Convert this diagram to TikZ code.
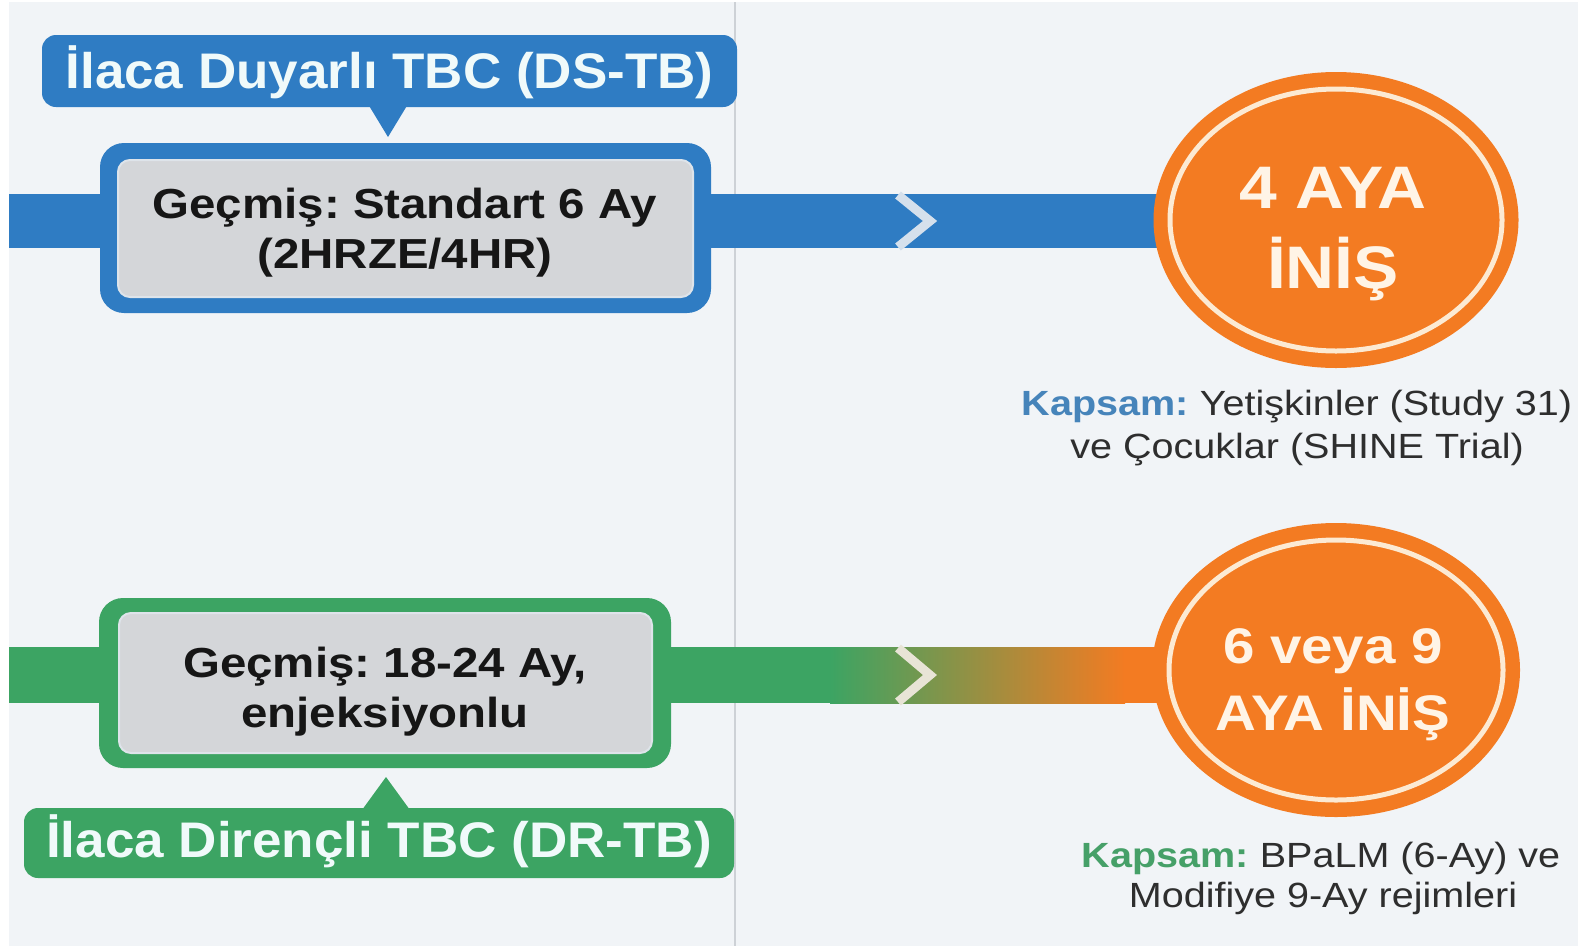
\documentclass[tikz,border=0pt]{standalone}
\usepackage{fontspec}
\setmainfont{Liberation Sans}[FakeStretch=1.13]
\newfontfamily\tagfont{Liberation Sans}[FakeStretch=1.06]
\usetikzlibrary{shapes.geometric}
\definecolor{bg}{HTML}{F1F4F7}
\definecolor{tblue}{HTML}{2F7CC3}
\definecolor{tgreen}{HTML}{3CA463}
\definecolor{torange}{HTML}{F37B22}
\definecolor{boxgrey}{HTML}{D4D6D9}
\definecolor{boxedge}{HTML}{DEE4EA}
\definecolor{ringc}{HTML}{FCEAD3}
\definecolor{divc}{HTML}{CDD1D6}
\definecolor{chevb}{HTML}{D5E0EC}
\definecolor{chevg}{HTML}{E8E4D6}
\definecolor{tagtxt}{HTML}{F0FAFA}
\definecolor{circtxt}{HTML}{FFF4E6}
\definecolor{boxtxtc}{HTML}{161616}
\definecolor{capc}{HTML}{2E2E2E}
\definecolor{kapblue}{HTML}{4684BA}
\definecolor{kapgreen}{HTML}{46A068}
\frenchspacing
\begin{document}
\frenchspacing
\begin{tikzpicture}[x=1pt,y=-1pt,
  tagbox/.style={rounded corners=14pt, inner sep=0pt, text=tagtxt,
    font=\tagfont\bfseries\fontsize{50}{56}\selectfont},
  outerbox/.style={rounded corners=24pt, inner sep=0pt},
  innerbox/.style={fill=boxgrey, draw=boxedge, line width=2pt, rounded corners=12pt, inner sep=0pt},
  boxtxt/.style={anchor=base, inner sep=0pt, text=boxtxtc, font=\bfseries\fontsize{42}{50}\selectfont},
  bigtxt/.style={anchor=base, inner sep=0pt, text=circtxt, font=\bfseries\fontsize{60}{66}\selectfont},
  midtxt/.style={anchor=base, inner sep=0pt, text=circtxt, font=\bfseries\fontsize{50}{56}\selectfont},
  captxt/.style={anchor=base, inner sep=0pt, text=capc, font=\fontsize{35}{40}\selectfont},
  badge/.style={ellipse, fill=torange, inner sep=0pt},
  ring/.style={draw=ringc, line width=5pt},
  chevron/.style={line width=9pt, line join=miter}
]
\useasboundingbox (0,0) rectangle (1578,946);
\fill[white] (0,0) rectangle (1578,946);
\fill[bg] (9,2) rectangle (1578,946);
\draw[divc, line width=2pt] (735,2) -- (735,946);

% ---------- top row (DS-TB) ----------
\coordinate (tstart) at (9,221);
\coordinate (tcen) at (1336,220);
\draw[tblue, line width=54pt] (tstart) -- (tcen |- tstart);
\node[badge, minimum width=365pt, minimum height=296pt] (tcirc) at (tcen) {};
\draw[ring] (tcirc.center) ellipse [x radius=166pt, y radius=131pt];
\coordinate (tchev) at (930,221);
\draw[chevb, chevron] ([shift={(-32,-26)}]tchev) -- (tchev) -- ([shift={(-32,26)}]tchev);

\node[outerbox, fill=tblue, minimum width=611pt, minimum height=170pt] (tbox) at (405.5,228) {};
\node[innerbox, minimum width=575pt, minimum height=137pt] (tin) at (405.5,228.5) {};
\node[boxtxt] (tl1) at (405,218) {Geçmiş: Standart 6 Ay};
\node[boxtxt] (tl2) at (405,268) {(2HRZE/4HR)};

\fill[tblue] (368,104) -- (408,104) -- (388,137) -- cycle;
\node[tagbox, fill=tblue, minimum width=695pt, minimum height=72pt,
  text height=40pt, text depth=6pt] (tlab) at (389.5,71) {İlaca Duyarlı TBC (DS-TB)};

\node[bigtxt] (tc1) at (1333,208) {4 AYA};
\node[bigtxt] (tc2) at (1333,288) {İNİŞ};

\node[captxt] (tk1) at (1297,415) {{\bfseries\color{kapblue}Kapsam:} Yetişkinler (Study 31)};
\node[captxt] (tk2) at (1297,458) {ve Çocuklar (SHINE Trial)};

% ---------- bottom row (DR-TB) ----------
\coordinate (bstart) at (9,647);
\coordinate (bmid) at (830,647);
\coordinate (bend) at (1125,703);
\coordinate (bcen) at (1336,670);
\fill[tgreen] (bstart) rectangle ([xshift=1pt]bmid |- bend);
\shade[left color=tgreen, right color=torange] (bmid) rectangle (bend);
\fill[torange] ([xshift=-1pt]bend) rectangle (bcen |- bmid);
\node[badge, minimum width=368pt, minimum height=294pt] (bcirc) at (bcen) {};
\draw[ring] (bcirc.center) ellipse [x radius=167pt, y radius=130pt];
\coordinate (bchev) at (930,675);
\draw[chevg, chevron] ([shift={(-32,-27)}]bchev) -- (bchev) -- ([shift={(-32,27)}]bchev);

\node[outerbox, fill=tgreen, minimum width=572pt, minimum height=170pt] (bbox) at (385,683) {};
\node[innerbox, minimum width=533pt, minimum height=140pt] (bin) at (385.5,683) {};
\node[boxtxt] (bl1) at (385,677) {Geçmiş: 18-24 Ay,};
\node[boxtxt] (bl2) at (385,727) {enjeksiyonlu};

\fill[tgreen] (362,810) -- (410,810) -- (386,777) -- cycle;
\node[tagbox, fill=tgreen, minimum width=710pt, minimum height=70pt,
  text height=34pt, text depth=6pt] (blab) at (379,843) {İlaca Dirençli TBC (DR-TB)};

\node[midtxt] (bc1) at (1333,663) {6 veya 9};
\node[midtxt] (bc2) at (1333,730) {AYA İNİŞ};

\node[captxt] (bk1) at (1321,867) {{\bfseries\color{kapgreen}Kapsam:} BPaLM (6-Ay) ve};
\node[captxt] (bk2) at (1323,907) {Modifiye 9-Ay rejimleri};
\end{tikzpicture}
\end{document}
